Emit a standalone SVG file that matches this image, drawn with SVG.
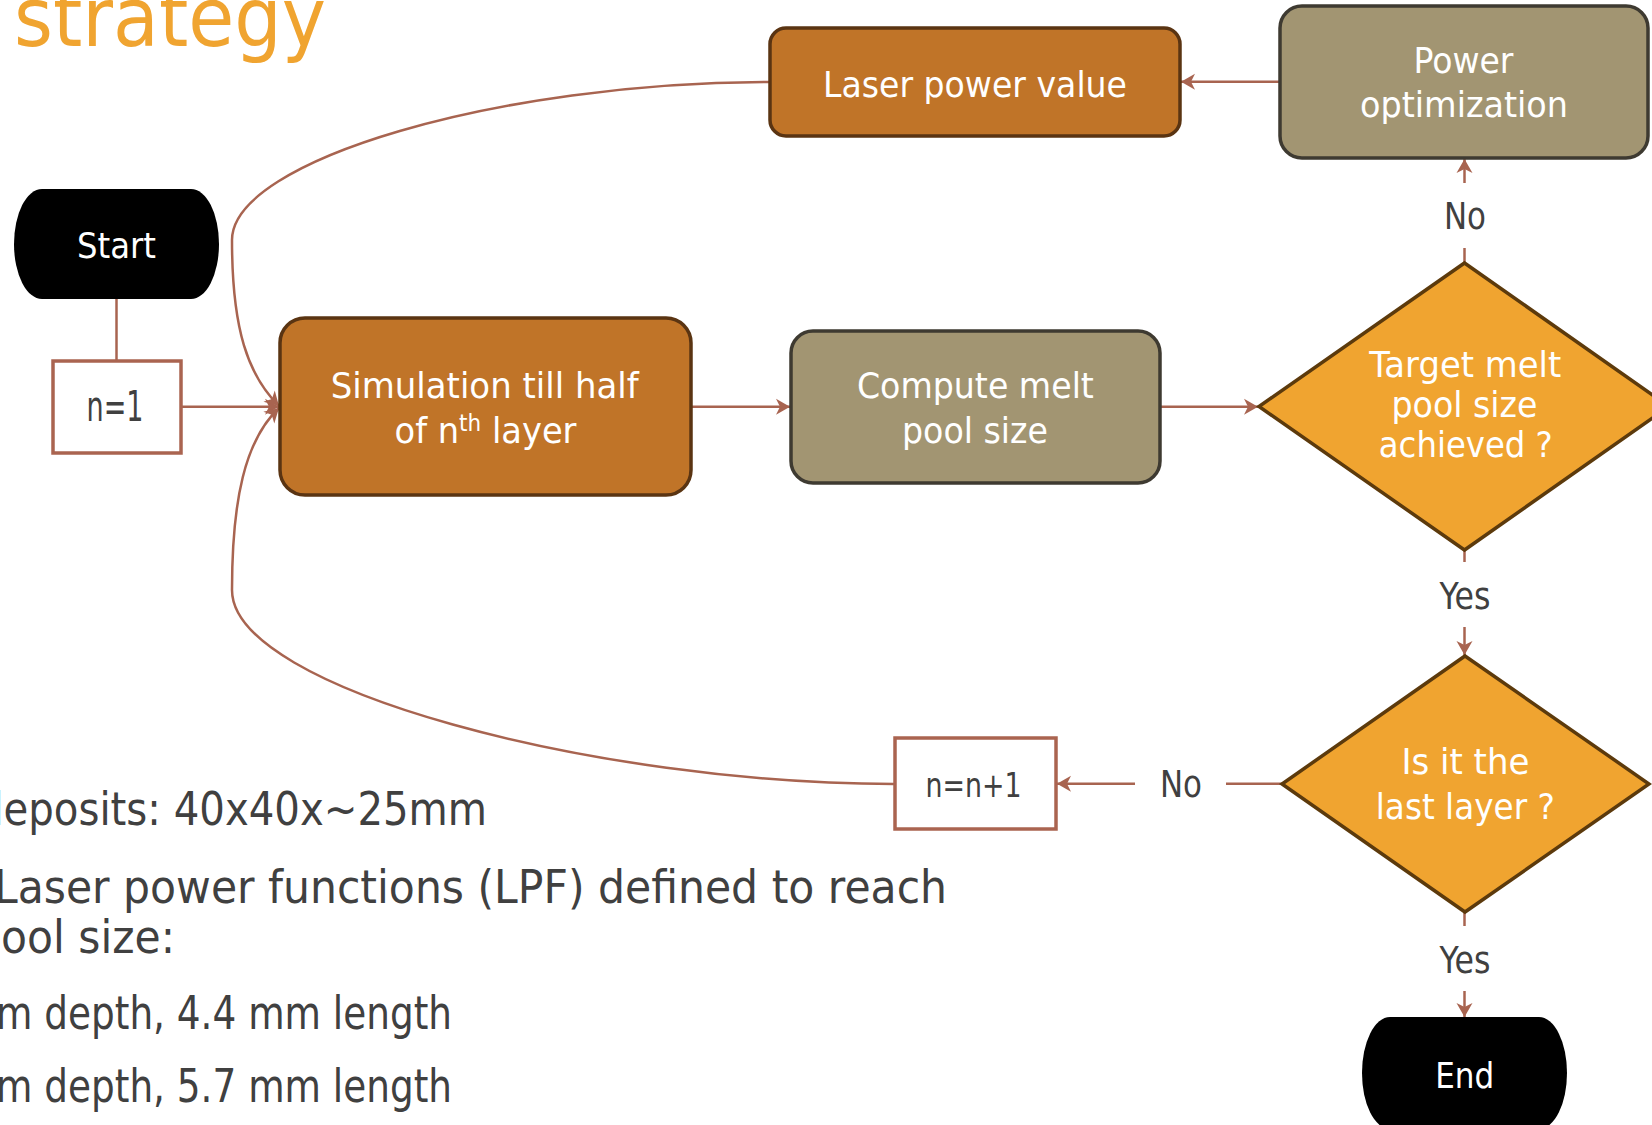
<svg xmlns="http://www.w3.org/2000/svg" width="1652" height="1125" viewBox="0 0 1652 1125">
  <style>
    .t { font-family: "DejaVu Sans", "Liberation Sans", sans-serif; }
    .w { fill: #ffffff; font-size: 36px; text-anchor: middle; }
    .g { fill: #404040; }
    .lbl { font-size: 37px; text-anchor: middle; }
    .body { font-size: 46px; }
    .conn { fill: none; stroke: #A86450; stroke-width: 2.5; }
    .arr { marker-end: url(#ah); }
    .orange { fill: #C07428; stroke: #5A3412; stroke-width: 3.5; }
    .khaki { fill: #A29572; stroke: #3E3A31; stroke-width: 3.5; }
    .dia { fill: #F0A430; stroke: #5C3A0C; stroke-width: 3.5; }
    .term { fill: #000000; }
    .counter { fill: #ffffff; stroke: #AA6450; stroke-width: 3.5; }
  </style>
  <defs>
    <marker id="ah" markerUnits="userSpaceOnUse" markerWidth="18" markerHeight="18" viewBox="0 0 18 18" refX="15" refY="9" orient="auto">
      <path d="M1,1 L15,9 L1,17 L5,9 z" fill="#A86450"/>
    </marker>
  </defs>

  <rect width="1652" height="1125" fill="#ffffff"/>

  <!-- title -->
  <text class="t" x="14" y="46" font-size="82" fill="#F0A430" textLength="312" lengthAdjust="spacingAndGlyphs">strategy</text>

  <!-- connectors -->
  <g id="connectors">
    <line class="conn" x1="116.5" y1="299" x2="116.5" y2="361"/>
    <line class="conn arr" x1="181" y1="406.7" x2="279" y2="406.7"/>
    <line class="conn arr" x1="691" y1="406.7" x2="790" y2="406.7"/>
    <line class="conn arr" x1="1160" y1="406.7" x2="1258" y2="406.7"/>
    <line class="conn" x1="1464.5" y1="263" x2="1464.5" y2="248"/>
    <line class="conn arr" x1="1464.5" y1="183" x2="1464.5" y2="159"/>
    <line class="conn arr" x1="1280" y1="81.7" x2="1181" y2="81.7"/>
    <path class="conn arr" d="M770,82 C500,82 232,160 232,240 C232,330 248,375 279,406"/>
    <line class="conn" x1="1464.5" y1="550" x2="1464.5" y2="562"/>
    <line class="conn arr" x1="1464.5" y1="627" x2="1464.5" y2="655"/>
    <line class="conn" x1="1282" y1="783.7" x2="1226" y2="783.7"/>
    <line class="conn arr" x1="1135" y1="783.7" x2="1057" y2="783.7"/>
    <path class="conn arr" d="M894,784 C600,784 232,690 232,590 C232,500 245,440 279,408"/>
    <line class="conn" x1="1464.5" y1="912" x2="1464.5" y2="926"/>
    <line class="conn arr" x1="1464.5" y1="991" x2="1464.5" y2="1017"/>
  </g>

  <!-- edge labels -->
  <g id="edge-labels" class="t g lbl">
    <text x="1465" y="229" textLength="42" lengthAdjust="spacingAndGlyphs">No</text>
    <text x="1465" y="609" textLength="51" lengthAdjust="spacingAndGlyphs">Yes</text>
    <text x="1181" y="797" textLength="42" lengthAdjust="spacingAndGlyphs">No</text>
    <text x="1465" y="973" textLength="51" lengthAdjust="spacingAndGlyphs">Yes</text>
  </g>

  <g id="start">
    <rect class="term" x="14" y="189" width="205" height="110" rx="28" ry="55"/>
    <text class="t w" x="116.5" y="258" textLength="79" lengthAdjust="spacingAndGlyphs">Start</text>
  </g>

  <g id="n-init">
    <rect class="counter" x="53" y="361" width="128" height="92"/>
    <text class="t g" x="115" y="421" font-size="42" text-anchor="middle" textLength="57" lengthAdjust="spacingAndGlyphs">n=1</text>
  </g>

  <g id="simulation">
    <rect class="orange" x="280" y="318" width="411" height="177" rx="25"/>
    <text class="t w" x="484.7" y="397.7" textLength="308" lengthAdjust="spacingAndGlyphs">Simulation till half</text>
    <text class="t w" x="485.5" y="442.7" textLength="182" lengthAdjust="spacingAndGlyphs">of n<tspan font-size="23" dy="-12">th</tspan><tspan dy="12"> layer</tspan></text>
  </g>

  <g id="compute">
    <rect class="khaki" x="791" y="331" width="369" height="152" rx="22"/>
    <text class="t w" x="975.4" y="397.7" textLength="237" lengthAdjust="spacingAndGlyphs">Compute melt</text>
    <text class="t w" x="975" y="442.7" textLength="146" lengthAdjust="spacingAndGlyphs">pool size</text>
  </g>

  <g id="target-check">
    <polygon class="dia" points="1464.5,263 1669,406.5 1464.5,550 1259,406.5"/>
    <text class="t w" x="1465.3" y="377" textLength="192" lengthAdjust="spacingAndGlyphs">Target melt</text>
    <text class="t w" x="1464.5" y="416.7" textLength="146" lengthAdjust="spacingAndGlyphs">pool size</text>
    <text class="t w" x="1465.8" y="457" textLength="174" lengthAdjust="spacingAndGlyphs">achieved ?</text>
  </g>

  <g id="power-optimization">
    <rect class="khaki" x="1280" y="6" width="368" height="152" rx="22"/>
    <text class="t w" x="1463.4" y="73.3" textLength="100" lengthAdjust="spacingAndGlyphs">Power</text>
    <text class="t w" x="1464" y="116.7" textLength="208" lengthAdjust="spacingAndGlyphs">optimization</text>
  </g>

  <g id="laser-power-value">
    <rect class="orange" x="770" y="28" width="410" height="108" rx="16"/>
    <text class="t w" x="975" y="96.7" textLength="304" lengthAdjust="spacingAndGlyphs">Laser power value</text>
  </g>

  <g id="last-layer-check">
    <polygon class="dia" points="1465,656 1649,784 1465,912 1282,784"/>
    <text class="t w" x="1465.4" y="774" textLength="128" lengthAdjust="spacingAndGlyphs">Is it the</text>
    <text class="t w" x="1465.3" y="819" textLength="179" lengthAdjust="spacingAndGlyphs">last layer ?</text>
  </g>

  <g id="n-increment">
    <rect class="counter" x="895" y="738" width="161" height="91"/>
    <text class="t g" x="973.5" y="797.3" font-size="33" text-anchor="middle" textLength="96" lengthAdjust="spacingAndGlyphs">n=n+1</text>
  </g>

  <g id="end">
    <rect class="term" x="1362" y="1017" width="205" height="112" rx="28" ry="56"/>
    <text class="t w" x="1464.7" y="1087.7" textLength="59" lengthAdjust="spacingAndGlyphs">End</text>
  </g>

  <!-- notes -->
  <g id="notes" class="t g body">
    <text x="-22" y="825" textLength="509" lengthAdjust="spacingAndGlyphs">deposits: 40x40x~25mm</text>
    <text x="-6" y="903" textLength="953" lengthAdjust="spacingAndGlyphs">Laser power functions (LPF) defined to reach</text>
    <text x="-26" y="953" textLength="201" lengthAdjust="spacingAndGlyphs">pool size:</text>
    <text x="-4" y="1029" textLength="456" lengthAdjust="spacingAndGlyphs">m depth, 4.4 mm length</text>
    <text x="-4" y="1102" textLength="456" lengthAdjust="spacingAndGlyphs">m depth, 5.7 mm length</text>
  </g>
</svg>
